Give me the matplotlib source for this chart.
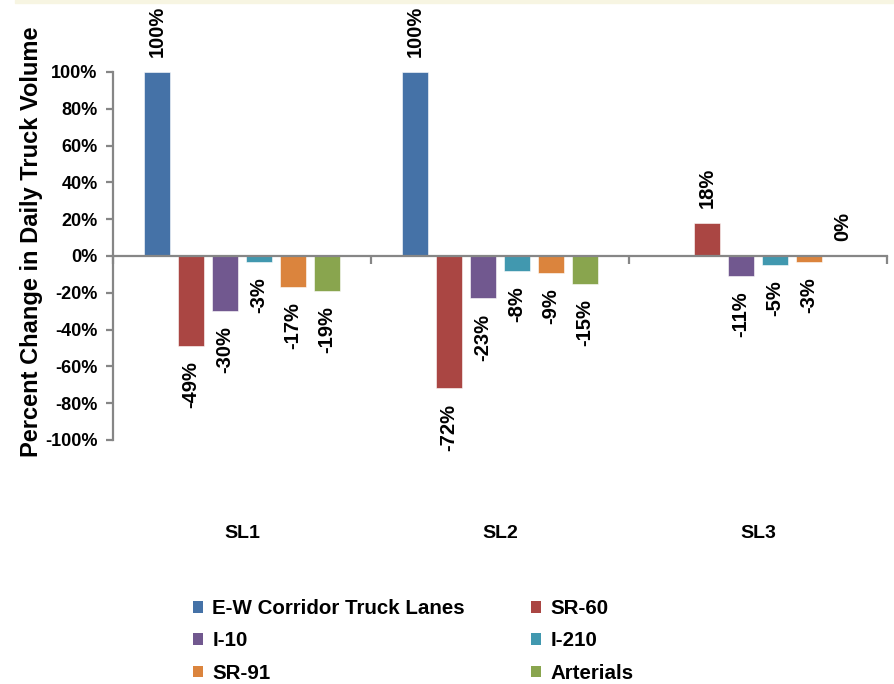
import matplotlib.pyplot as plt
import numpy as np
from matplotlib.patches import Rectangle

plt.rcParams["font.family"] = ["Liberation Sans", "DejaVu Sans"]
plt.rcParams["font.weight"] = "bold"

scenarios = ["SL1", "SL2", "SL3"]
series = ["E-W Corridor Truck Lanes", "SR-60", "I-10", "I-210", "SR-91", "Arterials"]
colors = ["#4572A7", "#AA4643", "#71588F", "#4198AF", "#DB843D", "#89A54E"]

# percent change per scenario, one list per series (None = no value)
ew_lanes = [100, 100, None]
sr60 = [-49, -72, 18]
i10 = [-30, -23, -11]
i210 = [-3, -8, -5]
sr91 = [-17, -9, -3]
arterials = [-19, -15, 0]
values = [ew_lanes, sr60, i10, i210, sr91, arterials]

y_ticks = [-100, -80, -60, -40, -20, 0, 20, 40, 60, 80, 100]

fig = plt.figure(figsize=(8.95, 6.84), dpi=100)
ax = fig.add_axes([113 / 895, 1 - 440 / 684, 774 / 895, 368 / 684])

axis_gray = "#868686"
pitch = 0.1318
width = 0.1
centers = np.arange(len(scenarios)) + 0.5

for i, (name, vals, col) in enumerate(zip(series, values, colors)):
    xs = centers + (i - 2.5) * pitch
    for x, v in zip(xs, vals):
        if v is None:
            continue
        ax.bar(x, v, width=width, color=col, edgecolor="white", linewidth=0.4)
        if v >= 0:
            off, va = 11, "bottom"
        else:
            off, va = -11, "top"
        ax.annotate(f"{v}%", (x, v), xytext=(0, off), textcoords="offset points",
                    rotation=90, ha="center", va=va, fontsize=14.5,
                    fontweight="bold", annotation_clip=False)
    # legend proxy
    ax.bar(np.nan, np.nan, color=col, label=name)

ax.set_xlim(0, 3)
ax.set_ylim(-100, 100)

for s in ["top", "right"]:
    ax.spines[s].set_visible(False)
ax.spines["bottom"].set_position(("data", 0))
for s in ["left", "bottom"]:
    ax.spines[s].set_color(axis_gray)
    ax.spines[s].set_linewidth(1.6)

ax.set_xticks([0, 1, 2, 3])
ax.set_xticklabels([])
ax.tick_params(axis="x", direction="out", length=6, width=1.6, color=axis_gray)
ax.set_yticks(y_ticks)
ax.set_yticklabels([f"{t}%" for t in y_ticks], fontsize=13, fontweight="bold")
ax.tick_params(axis="y", direction="out", length=5, width=1.6, color=axis_gray, pad=6)

for c, name in zip(centers, scenarios):
    ax.text(c, -151, name, ha="center", va="center", fontsize=14,
            fontweight="bold", clip_on=False)

fig.text(32 / 895, 1 - 242 / 684, "Percent Change in Daily Truck Volume",
         rotation=90, ha="center", va="center", fontsize=17, fontweight="bold")

handles, labels = ax.get_legend_handles_labels()
order = [0, 2, 4, 1, 3, 5]
leg = fig.legend([handles[k] for k in order], [labels[k] for k in order],
                 ncol=2, loc="center", bbox_to_anchor=(413 / 895, 1 - 641 / 684),
                 frameon=False, handlelength=0.5, handleheight=0.5,
                 handletextpad=0.45, columnspacing=3.2, labelspacing=0.65,
                 prop={"weight": "bold", "size": 14.8})

# thin cream band along the top edge
fig.patches.append(Rectangle((15 / 895, 1 - 3 / 684), 880 / 895, 3 / 684,
                             transform=fig.transFigure, color="#F7F5E2", zorder=0))

fig.savefig("out.png", dpi=100)
